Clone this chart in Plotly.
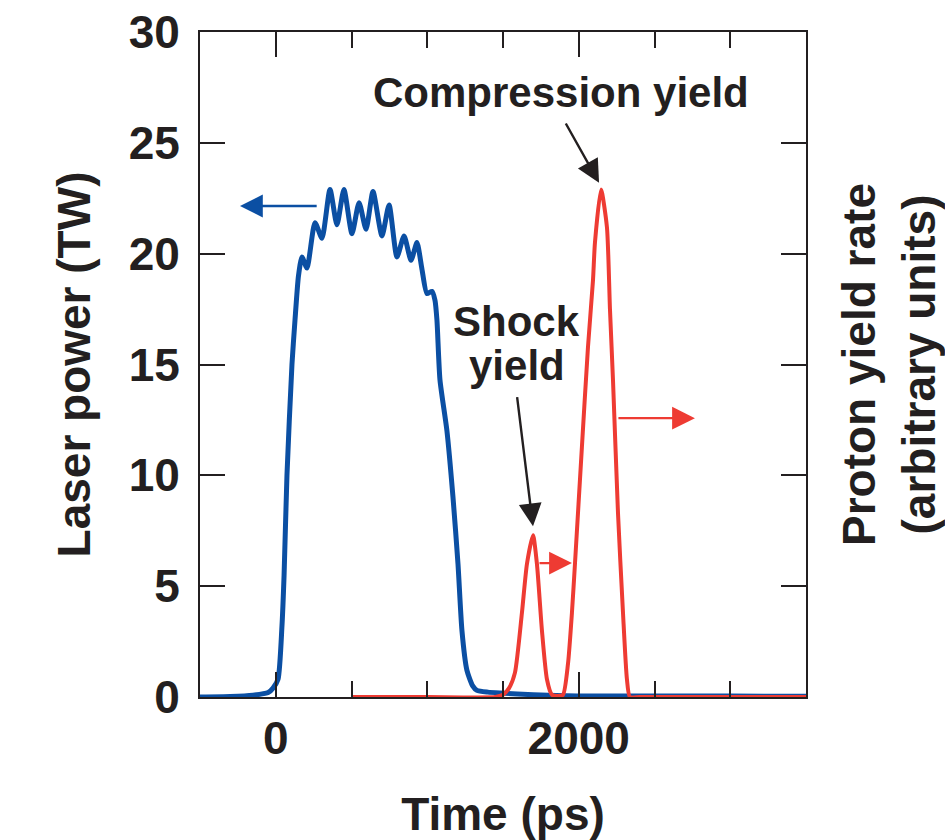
import plotly.graph_objects as go

# ---- data ----
laser_t = [-500, -300, -150, -50, -18, 15, 41, 55, 74, 107, 127, 150, 173, 206, 259, 305, 358, 404, 450,
           503, 550, 596, 642, 701, 748, 800, 847, 893, 932, 965, 998, 1031, 1051, 1064, 1084, 1130,
           1170, 1203, 1229, 1262, 1300, 1328, 1400, 1480, 1700, 1990, 2500, 3000, 3500]
laser_p = [0.0, 0.02, 0.08, 0.2, 0.4, 0.8, 3.2, 5.5, 10.0, 15.0, 17.0, 19.0, 19.85, 19.35, 21.4, 20.7, 22.9, 21.3, 22.9,
           20.9, 22.3, 21.1, 22.8, 20.8, 22.2, 19.85, 20.8, 19.7, 20.5, 19.3, 18.2, 18.3, 17.9, 17.0, 14.3, 12.0,
           9.0, 6.0, 3.0, 1.2, 0.5, 0.3, 0.22, 0.18, 0.1, 0.05, 0.04, 0.04, 0.03]

proton_t = [500, 1000, 1450, 1500, 1540, 1579, 1625, 1658, 1698, 1724, 1757, 1790, 1823, 1860, 1896, 1929, 1955,
            1975, 2021, 2061, 2094, 2107, 2147, 2186, 2206, 2226, 2259, 2292, 2318, 2338, 2400, 3000, 3500]
proton_y = [0.0, 0.0, 0.0, 0.1, 0.4, 1.1, 3.8, 6.0, 7.3, 6.0, 3.0, 0.8, 0.1, 0.05, 0.1, 1.5, 3.8,
            6.0, 11.3, 15.8, 18.8, 20.5, 22.9, 21.2, 17.5, 14.3, 8.3, 3.8, 0.8, 0.0, 0.0, 0.0, 0.0]

x_ticks = [0, 2000]
y_ticks = [0, 5, 10, 15, 20, 25, 30]

BLUE = "#0b4fa3"
RED = "#ee3b33"
INK = "#231f20"
FONT = "Liberation Sans"

fig = go.Figure()
fig.add_trace(go.Scatter(x=laser_t, y=laser_p, mode="lines",
                         line=dict(color=BLUE, width=5, shape="spline", smoothing=0.6),
                         showlegend=False))
fig.add_trace(go.Scatter(x=proton_t, y=proton_y, mode="lines", yaxis="y2",
                         line=dict(color=RED, width=4, shape="spline", smoothing=0.6),
                         showlegend=False))

tickfont = dict(family=FONT, size=46, color=INK, weight="bold")
titlefont = dict(family=FONT, size=46, color=INK, weight="bold")

fig.update_layout(
    width=945, height=840,
    margin=dict(l=200, r=139, t=32, b=143, autoexpand=False),
    paper_bgcolor="white", plot_bgcolor="white",
    font=dict(family=FONT, color=INK, weight="bold"),
    xaxis=dict(range=[-500, 3500], tickvals=x_ticks, ticks="inside", ticklen=25, tickwidth=2,
               tickcolor=INK, showline=True, linecolor=INK, linewidth=2, mirror="ticks",
               showgrid=False, zeroline=False, tickfont=tickfont, ticklabelstandoff=0,
               automargin=False,
               minor=dict(dtick=500, tick0=0, ticks="inside", ticklen=16, tickwidth=2, tickcolor=INK),
               title=dict(text="Time (ps)", font=titlefont, standoff=36)),
    yaxis=dict(range=[0, 30], tickvals=y_ticks, ticks="inside", ticklen=25, tickwidth=2,
               tickcolor=INK, showline=True, linecolor=INK, linewidth=2, mirror="ticks",
               showgrid=False, zeroline=False, tickfont=tickfont, ticklabelstandoff=9,
               automargin=False,
               title=dict(text="Laser power (TW)", font=titlefont, standoff=24)),
    yaxis2=dict(range=[0, 30], overlaying="y", side="right", showticklabels=False, ticks="",
                showgrid=False, zeroline=False, showline=False, automargin=False,
                title=dict(text="Proton yield rate<br>(arbitrary units)", font=titlefont, standoff=50)),
)

ann_font = dict(family=FONT, size=42, color=INK, weight="bold")
fig.add_annotation(x=1883, y=27.27, text="Compression yield", showarrow=False, font=ann_font,
                   xanchor="center", yanchor="middle")
fig.add_annotation(x=1592, y=16.93, text="Shock", showarrow=False, font=ann_font,
                   xanchor="center", yanchor="middle")
fig.add_annotation(x=1592, y=14.97, text="yield", showarrow=False, font=ann_font,
                   xanchor="center", yanchor="middle")

def arrow(x0, y0, x1, y1, color, yref="y"):
    fig.add_annotation(x=x1, y=y1, ax=x0, ay=y0, xref="x", yref=yref, axref="x", ayref=yref,
                       text="", showarrow=True, arrowhead=2, arrowsize=1.9, arrowwidth=2.4,
                       arrowcolor=color)

arrow(1909, 25.94, 2134, 23.2, INK)
arrow(1592, 13.6, 1698, 7.7, INK)
arrow(280, 22.15, -236, 22.15, BLUE)
arrow(2252, 12.58, 2767, 12.58, RED)
arrow(1731, 6.04, 1955, 6.04, RED)

fig.write_html("out.html")
